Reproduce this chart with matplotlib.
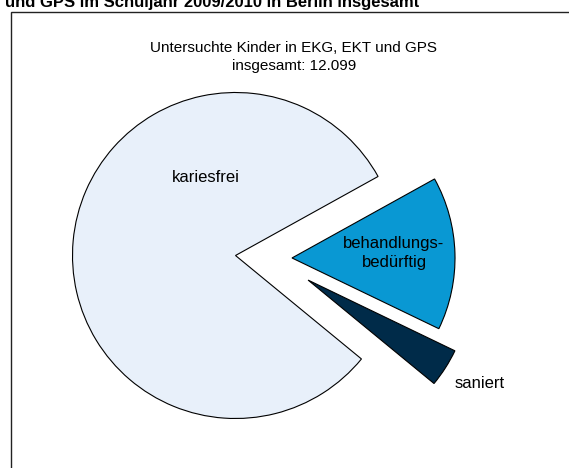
import matplotlib
matplotlib.use("Agg")
import numpy as np
import matplotlib.pyplot as plt
from matplotlib.patches import Rectangle

plt.rcParams['font.family'] = ['Liberation Sans', 'DejaVu Sans']

# Data (share of examined children, %)
categories = ["kariesfrei", "saniert", "behandlungs-\nbedürftig"]
values = [81.0, 3.8, 15.2]
colors = ["#E8F0FA", "#002B49", "#0998D3"]
explode = [0.0, 0.47, 0.347]
explode_dir = [0.0, -18.7, -2.5]   # direction of the offset in degrees

title = "und GPS im Schuljahr 2009/2010 in Berlin insgesamt"
subtitle = "Untersuchte Kinder in EKG, EKT und GPS\ninsgesamt: 12.099"

W, H = 569, 468
fig = plt.figure(figsize=(W / 100, H / 100), dpi=100)
ax = fig.add_axes([0, 0, 1, 1])

R = 163.0          # pie radius in pixels
cx, cy = 235.5, 255.5  # pie centre in pixels (from top-left)

wedges, _ = ax.pie(values, explode=explode, colors=colors, startangle=29,
                   counterclock=True,
                   wedgeprops=dict(edgecolor="black", linewidth=0.8))
for w, d, a in zip(wedges, explode, explode_dir):
    w.set_center((d * np.cos(np.radians(a)), d * np.sin(np.radians(a))))
ax.set_aspect('auto')
ax.set_xlim(-cx / R, (W - cx) / R)
ax.set_ylim(-(H - cy) / R, cy / R)
ax.axis('off')

def px(x, y):
    return (x - cx) / R, (cy - y) / R

ax.text(*px(206, 177), categories[0], ha='center', va='center', fontsize=12)
ax.text(*px(394, 253), categories[2], ha='center', va='center', fontsize=12,
        linespacing=1.3)
ax.text(*px(480, 383), categories[1], ha='center', va='center', fontsize=12)

# subtitle
fig.text(294 / W, 1 - 57 / H, subtitle, ha='center', va='center', fontsize=11,
         linespacing=1.45)

# cut-off title at top
fig.text(5 / W, 1 - 6.5 / H, title, ha='left', va='baseline', fontsize=12,
         fontweight='bold')

# frame
fig.add_artist(Rectangle((10.5 / W, -0.2), 1.2, 1.2 - 11.5 / H, fill=False,
                         edgecolor="#222222", linewidth=1.0,
                         transform=fig.transFigure, clip_on=False))

fig.savefig("out.png", dpi=100)
